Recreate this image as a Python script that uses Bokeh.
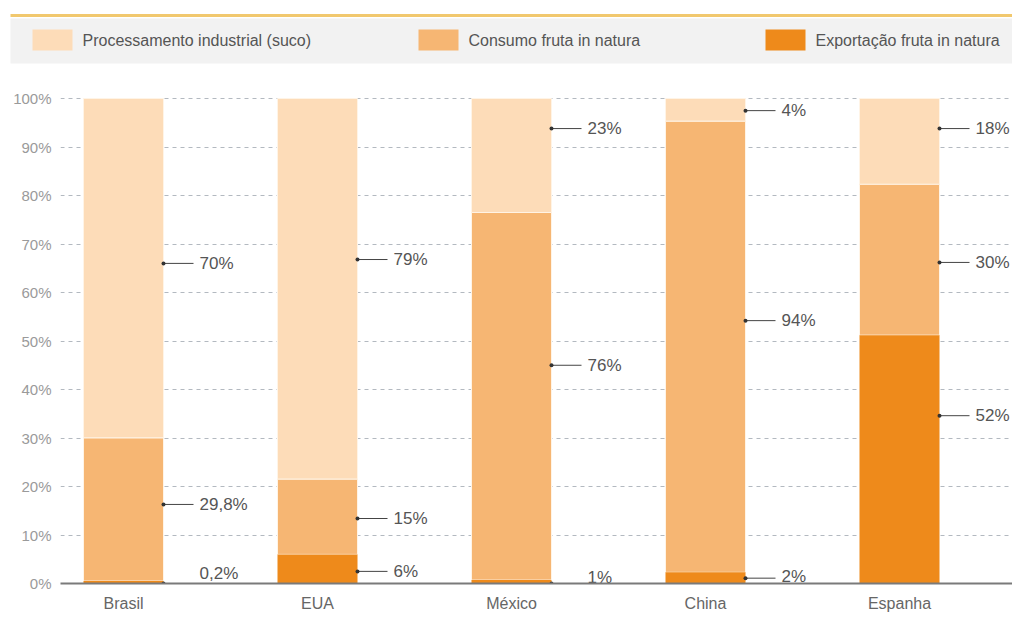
from bokeh.plotting import figure
from bokeh.models import Range1d, FixedTicker, ColumnDataSource
from bokeh.core.properties import value
from bokeh.embed import file_html
from bokeh.resources import INLINE

# ---------------- data ----------------
countries = ["Brasil", "EUA", "México", "China", "Espanha"]
series_names = ["Processamento industrial (suco)", "Consumo fruta in natura", "Exportação fruta in natura"]
exportacao = [0.2, 6, 1, 2, 52]
consumo = [29.8, 15, 76, 94, 30]
processamento = [70, 79, 23, 4, 18]
# drawn tops of stacked segments
export_top = [0.5, 6, 0.7, 2.3, 51.2]
consumo_top = [30, 21.5, 76.5, 95.3, 82.3]

# annotation labels: (country index, label text, dot y, text y)
label_idx = [0, 0, 0, 1, 1, 1, 2, 2, 2, 3, 3, 3, 4, 4, 4]
label_txt = ["70%", "29,8%", "0,2%", "79%", "15%", "6%", "23%", "76%", "1%",
             "4%", "94%", "2%", "18%", "30%", "52%"]
label_dot_y = [66, 16.3, 0, 66.8, 13.4, 2.5, 93.8, 45, 0, 97.5, 54.2, 1.1, 93.8, 66.2, 34.6]
label_txt_y = [66, 16.3, 2.0, 66.8, 13.4, 2.5, 93.8, 45, 1.3, 97.5, 54.2, 1.5, 93.8, 66.2, 34.6]

y_ticks = [0, 10, 20, 30, 40, 50, 60, 70, 80, 90, 100]

# ---------------- styles ----------------
C_PROC = "#FDDCB8"
C_CONS = "#F6B673"
C_EXP = "#EE8A1B"
FONT = "Liberation Sans"

W = 1012
TOP_H = 70
BOT_H = 619 - TOP_H

# ---------------- top band (legend) ----------------
top = figure(width=W, height=TOP_H, x_range=Range1d(0, W), y_range=Range1d(TOP_H, 0),
             output_backend="svg", toolbar_location=None, min_border=0,
             x_axis_type=None, y_axis_type=None)
top.grid.visible = False
top.outline_line_color = None
top.quad(left=[10], right=[W], top=[18], bottom=[63], fill_color="#F2F2F2", line_color=None)
top.segment(x0=[10], y0=[15], x1=[W], y1=[15], line_color="#F1C86E", line_width=3)

sw_x = [32, 418, 765]
sw_col = [C_PROC, C_CONS, C_EXP]
top.quad(left=sw_x, right=[x + 40 for x in sw_x], top=[29] * 3, bottom=[50] * 3,
         fill_color=sw_col, line_color=None)
top.text(x=[x + 50 for x in sw_x], y=[40] * 3, text=series_names,
         text_font=value(FONT), text_font_size="16px", text_color="#555555",
         text_baseline="middle", text_align="left")

# ---------------- main chart ----------------
px_per_unit = 194.0
left_px = 60
x_start = -63 / px_per_unit
x_end = x_start + (W - left_px) / px_per_unit
y_end = 100 + 28 / 4.85

p = figure(width=W, height=BOT_H, x_range=Range1d(x_start, x_end), y_range=Range1d(0, y_end),
           output_backend="svg", toolbar_location=None,
           min_border_left=left_px, min_border_right=0, min_border_top=0, min_border_bottom=36)
p.outline_line_color = None
p.xgrid.visible = False
p.ygrid.ticker = FixedTicker(ticks=y_ticks)
p.ygrid.grid_line_color = "#B3B9C0"
p.ygrid.grid_line_dash = "4 4"
p.ygrid.grid_line_width = 1

xs = list(range(len(countries)))
bw = 80 / px_per_unit
src = ColumnDataSource(dict(x=xs, e=export_top, c=consumo_top, t=[100] * len(xs)))
p.vbar(x="x", top="t", bottom="c", width=bw, source=src, fill_color=C_PROC,
       line_color="#FFF4E6", line_width=1)
p.vbar(x="x", top="c", bottom="e", width=bw, source=src, fill_color=C_CONS,
       line_color="#FFF4E6", line_width=1)
p.vbar(x="x", top="e", bottom=0, width=bw, source=src, fill_color=C_EXP,
       line_color=None)

# axes
p.yaxis.ticker = FixedTicker(ticks=y_ticks)
p.yaxis.major_label_overrides = {t: f"{t}%" for t in y_ticks}
p.yaxis.axis_line_color = None
p.yaxis.major_tick_line_color = None
p.yaxis.minor_tick_line_color = None
p.yaxis.major_label_text_color = "#9A9A9A"
p.yaxis.major_label_text_font = FONT
p.yaxis.major_label_text_font_size = "15px"
p.yaxis.major_label_standoff = 3

p.xaxis.ticker = FixedTicker(ticks=xs)
p.xaxis.major_label_overrides = {i: c for i, c in enumerate(countries)}
p.xaxis.axis_line_color = "#7A7A7A"
p.xaxis.axis_line_width = 2
p.xaxis.major_tick_line_color = None
p.xaxis.minor_tick_line_color = None
p.xaxis.major_label_text_color = "#666666"
p.xaxis.major_label_text_font = FONT
p.xaxis.major_label_text_font_size = "16px"
p.xaxis.major_label_standoff = 5

# annotations
dot_x = [label_idx[k] + bw / 2 for k in range(len(label_idx))]
line_end = [x + 30 / px_per_unit for x in dot_x]
text_x = [x + 36 / px_per_unit for x in dot_x]
p.segment(x0=dot_x, y0=label_dot_y, x1=line_end, y1=label_dot_y, line_color="#444444", line_width=1)
p.scatter(x=dot_x, y=label_dot_y, size=4, fill_color="#333333", line_color=None)
p.text(x=text_x, y=label_txt_y, text=label_txt, text_font=value(FONT), text_font_size="17px",
       text_color="#555555", text_baseline="middle", text_align="left")

open("out.html", "w").write(file_html([top, p], INLINE))
